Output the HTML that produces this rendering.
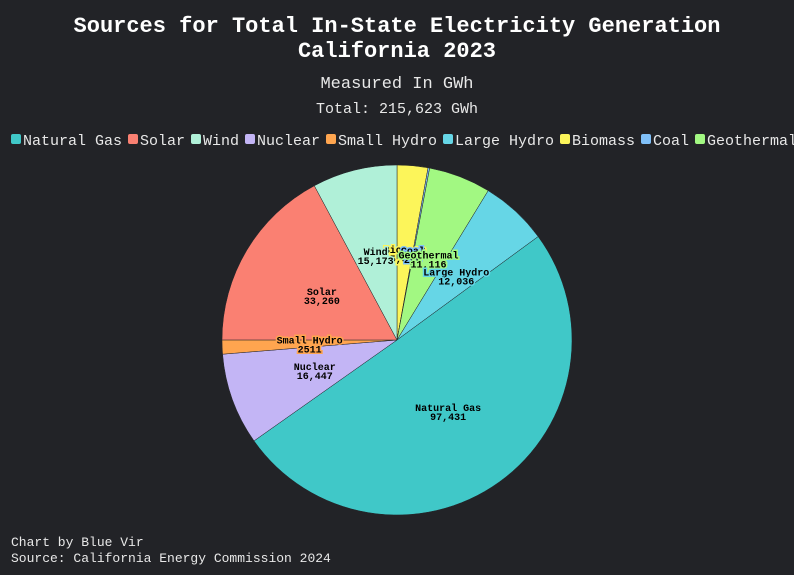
<!DOCTYPE html>
<html><head><meta charset="utf-8"><style>
html,body{margin:0;padding:0;background:#222327;}
svg{display:block;font-family:"Liberation Mono",monospace;}
</style></head><body>
<svg width="794" height="575">
<rect width="794" height="575" fill="#222327"/>
<text x="397" y="32" text-anchor="middle" fill="#fff" font-size="22" font-weight="bold">Sources for Total In-State Electricity Generation</text>
<text x="397" y="57" text-anchor="middle" fill="#fff" font-size="22" font-weight="bold">California 2023</text>
<text x="397" y="88" text-anchor="middle" fill="#e8e8e8" font-size="17">Measured In GWh</text>
<text x="397" y="113" text-anchor="middle" fill="#e8e8e8" font-size="15">Total: 215,623 GWh</text>
<g id="legend"></g>
<g id="slices"></g>
<g id="labels"></g>
<text x="11" y="546" fill="#e8e8e8" font-size="13">Chart by Blue Vir</text>
<text x="11" y="562" fill="#e8e8e8" font-size="13">Source: California Energy Commission 2024</text>
</svg>
<script>
const categories=["Biomass","Coal","Geothermal","Large Hydro","Natural Gas","Nuclear","Small Hydro","Solar","Wind"];
const values=[5500,290,11116,12036,97431,16447,2511,33260,15173];
const valueLabels=["5,500","290","11,116","12,036","97,431","16,447","2511","33,260","15,173"];
const colors=["#fcf55a","#80c0f8","#a2f882","#66d6e6","#40c8c8","#c3b5f5","#ffa54f","#fa8072","#b0f0d8"];
const legendOrder=["Natural Gas","Solar","Wind","Nuclear","Small Hydro","Large Hydro","Biomass","Coal","Geothermal"];
const NS="http://www.w3.org/2000/svg";
const cx=397,cy=340,R=175;
const total=values.reduce((a,b)=>a+b,0);
function pt(a,r){return [cx+r*Math.sin(a),cy-r*Math.cos(a)];}
const sg=document.getElementById('slices'),lg=document.getElementById('labels');
let a0=0;
values.forEach((v,i)=>{
  const a1=a0+v/total*2*Math.PI;
  const p0=pt(a0,R),p1=pt(a1,R);
  const p=document.createElementNS(NS,'path');
  p.setAttribute('d',`M${cx},${cy}L${p0[0]},${p0[1]}A${R},${R} 0 ${a1-a0>Math.PI?1:0} 1 ${p1[0]},${p1[1]}Z`);
  p.setAttribute('fill',colors[i]);p.setAttribute('stroke','#222327');p.setAttribute('stroke-width','0.5');
  
  
  sg.appendChild(p);
  const m=pt((a0+a1)/2,R*0.5);
  [categories[i],valueLabels[i]].forEach((s,k)=>{
    const t=document.createElementNS(NS,'text');
    t.setAttribute('x',m[0]);t.setAttribute('y',m[1]+(k?9:0));
    t.setAttribute('text-anchor','middle');t.setAttribute('font-size','10');t.setAttribute('font-weight','bold');
    t.setAttribute('fill','#000');t.setAttribute('stroke',colors[i]);t.setAttribute('stroke-width','3');
    t.setAttribute('paint-order','stroke');
    
    
    t.textContent=s;lg.appendChild(t);
  });
  a0=a1;
});
const leg=document.getElementById('legend');
let x=11;
legendOrder.forEach(n=>{
  const i=categories.indexOf(n);
  const r=document.createElementNS(NS,'rect');
  r.setAttribute('x',x);r.setAttribute('y',134);r.setAttribute('width',10);r.setAttribute('height',10);r.setAttribute('rx',2);
  r.setAttribute('fill',colors[i]);
  
  
  leg.appendChild(r);
  const t=document.createElementNS(NS,'text');
  t.setAttribute('x',x+12);t.setAttribute('y',145);t.setAttribute('fill','#e8e8e8');t.setAttribute('font-size','15');
  
  
  t.textContent=n;leg.appendChild(t);
  x+=12+n.length*9+6;
});
</script>
</body></html>
